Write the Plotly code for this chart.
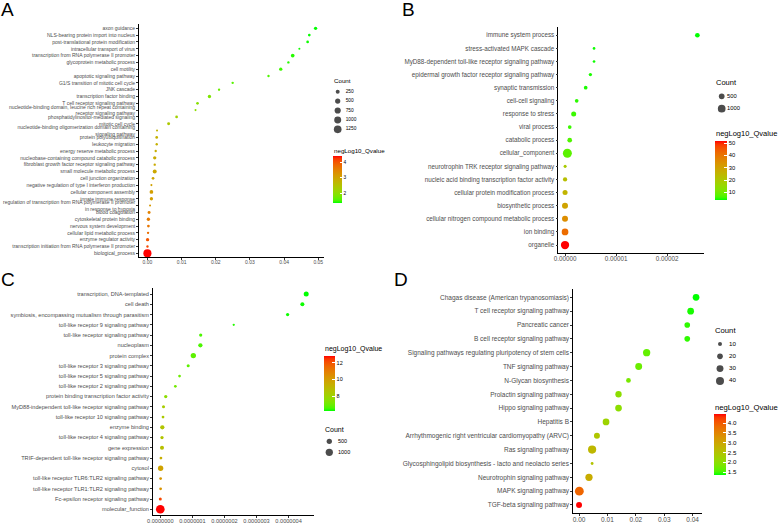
import plotly.graph_objects as go

W, H = 778, 523
FONT = "Liberation Sans"

# ---------------- Panel A ----------------
A_terms = [
    "axon guidance",
    "NLS-bearing protein import into nucleus",
    "post-translational protein modification",
    "intracellular transport of virus",
    "transcription from RNA polymerase II promoter",
    "glycoprotein metabolic process",
    "cell motility",
    "apoptotic signaling pathway",
    "G1/S transition of mitotic cell cycle",
    "JNK cascade",
    "transcription factor binding",
    "T cell receptor signaling pathway",
    "nucleotide-binding domain, leucine rich repeat containing\nreceptor signaling pathway",
    "phosphatidylinositol-mediated signaling",
    "mitotic cell cycle",
    "nucleotide-binding oligomerization domain containing\nsignaling pathway",
    "protein polyubiquitination",
    "leukocyte migration",
    "energy reserve metabolic process",
    "nucleobase-containing compound catabolic process",
    "fibroblast growth factor receptor signaling pathway",
    "small molecule metabolic process",
    "cell junction organization",
    "negative regulation of type I interferon production",
    "cellular component assembly",
    "innate immune response",
    "regulation of transcription from RNA polymerase II promoter\nin response to hypoxia",
    "blood coagulation",
    "cytoskeletal protein binding",
    "nervous system development",
    "cellular lipid metabolic process",
    "enzyme regulator activity",
    "transcription initiation from RNA polymerase II promoter",
    "biological_process",
]
A_pvalue = [0.04922, 0.04738, 0.04689, 0.04447, 0.04252, 0.04126, 0.03903, 0.03544,
            0.02495, 0.02097, 0.01816, 0.01466, 0.01408, 0.00854, 0.00621, 0.00282,
            0.00272, 0.00272, 0.00243, 0.00214, 0.00214, 0.00214, 0.00165, 0.00117,
            0.00117, 0.00117, 0.00078, 0.00049, 0.00029, 0.00029, 0.00019, 0.00005,
            0.00002, 0.0]
A_count = [150, 80, 80, 30, 200, 50, 150, 50, 50, 50, 150, 80, 30, 80, 110, 30, 80,
           50, 50, 150, 50, 250, 80, 30, 200, 150, 30, 110, 150, 80, 50, 150, 50, 1400]
A_qvalue = [1.37, 1.38, 1.40, 1.40, 1.45, 1.45, 1.5, 1.55, 1.6, 1.7, 1.85, 1.95, 2.0,
            2.25, 2.4, 2.75, 2.8, 2.8, 2.85, 2.9, 2.9, 2.95, 3.0, 3.05, 3.1, 3.1, 3.2,
            3.5, 3.6, 3.65, 3.75, 4.0, 4.1, 4.41]
A_xticks = [0.0, 0.01, 0.02, 0.03, 0.04, 0.05]
A_cticks = [2, 3, 4]
A_count_legend = [250, 500, 750, 1000, 1250]

# ---------------- Panel B ----------------
B_terms = [
    "immune system process",
    "stress-activated MAPK cascade",
    "MyD88-dependent toll-like receptor signaling pathway",
    "epidermal growth factor receptor signaling pathway",
    "synaptic transmission",
    "cell-cell signaling",
    "response to stress",
    "viral process",
    "catabolic process",
    "cellular_component",
    "neurotrophin TRK receptor signaling pathway",
    "nucleic acid binding transcription factor activity",
    "cellular protein modification process",
    "biosynthetic process",
    "cellular nitrogen compound metabolic process",
    "ion binding",
    "organelle",
]
B_pvalue = [2.595e-5, 5.69e-6, 5.69e-6, 4.97e-6, 4.05e-6, 2.29e-6, 1.70e-6, 0.92e-6,
            0.92e-6, 0.46e-6, 2e-8, 1e-8, 1e-8, 0.0, 0.0, 0.0, 0.0]
B_count = [310, 70, 70, 130, 170, 170, 370, 170, 310, 1400, 100, 250, 370, 560, 560, 730, 1180]
B_qvalue = [4.1, 4.5, 4.5, 5.0, 5.0, 5.5, 6.0, 6.0, 7.0, 8.0, 19.5, 23.0, 25.5, 30.0,
            35.0, 42.0, 51.9]
B_xticks = [0.0, 0.00001, 0.00002]
B_cticks = [10, 20, 30, 40, 50]
B_count_legend = [500, 1000]

# ---------------- Panel C ----------------
C_terms = [
    "transcription, DNA-templated",
    "cell death",
    "symbiosis, encompassing mutualism through parasitism",
    "toll-like receptor 9 signaling pathway",
    "toll-like receptor signaling pathway",
    "nucleoplasm",
    "protein complex",
    "toll-like receptor 3 signaling pathway",
    "toll-like receptor 5 signaling pathway",
    "toll-like receptor 2 signaling pathway",
    "protein binding transcription factor activity",
    "MyD88-independent toll-like receptor signaling pathway",
    "toll-like receptor 10 signaling pathway",
    "enzyme binding",
    "toll-like receptor 4 signaling pathway",
    "gene expression",
    "TRIF-dependent toll-like receptor signaling pathway",
    "cytosol",
    "toll-like receptor TLR6:TLR2 signaling pathway",
    "toll-like receptor TLR1:TLR2 signaling pathway",
    "Fc-epsilon receptor signaling pathway",
    "molecular_function",
]
C_pvalue = [4.55e-7, 4.43e-7, 3.97e-7, 2.29e-7, 1.26e-7, 1.25e-7, 1.03e-7, 0.87e-7,
            0.60e-7, 0.47e-7, 0.17e-7, 0.10e-7, 0.085e-7, 0.063e-7, 0.053e-7,
            0.053e-7, 0.02e-7, 0.01e-7, 0.01e-7, 0.01e-7, 0.0, 0.0]
C_count = [440, 270, 170, 70, 170, 310, 500, 140, 110, 110, 170, 140, 110, 310, 170,
           270, 110, 500, 110, 110, 140, 1450]
C_qvalue = [6.24, 6.3, 6.3, 6.4, 6.6, 6.6, 6.8, 6.8, 7.0, 7.1, 7.6, 8.3, 8.4, 8.6, 8.6,
            8.8, 9.4, 9.8, 10.2, 10.3, 12.2, 12.8]
C_xticks = [0.0, 1e-7, 2e-7, 3e-7, 4e-7]
C_cticks = [8, 10, 12]
C_count_legend = [500, 1000]

# ---------------- Panel D ----------------
D_terms = [
    "Chagas disease (American trypanosomiasis)",
    "T cell receptor signaling pathway",
    "Pancreatic cancer",
    "B cell receptor signaling pathway",
    "Signaling pathways regulating pluripotency of stem cells",
    "TNF signaling pathway",
    "N-Glycan biosynthesis",
    "Prolactin signaling pathway",
    "Hippo signaling pathway",
    "Hepatitis B",
    "Arrhythmogenic right ventricular cardiomyopathy (ARVC)",
    "Ras signaling pathway",
    "Glycosphingolipid biosynthesis - lacto and neolacto series",
    "Neurotrophin signaling pathway",
    "MAPK signaling pathway",
    "TGF-beta signaling pathway",
]
D_pvalue = [0.0412, 0.0393, 0.0381, 0.0381, 0.0238, 0.0210, 0.0174, 0.0139, 0.0139,
            0.0095, 0.0063, 0.0046, 0.0046, 0.0035, 0.0001, 0.0]
D_count = [28, 28, 20, 20, 33, 30, 14, 25, 28, 28, 22, 42, 5, 33, 49, 22]
D_qvalue = [1.35, 1.4, 1.45, 1.45, 1.65, 1.7, 1.8, 2.0, 2.0, 2.2, 2.45, 2.7, 2.5, 2.9,
            3.9, 4.47]
D_xticks = [0.0, 0.01, 0.02, 0.03, 0.04]
D_cticks = [1.5, 2.0, 2.5, 3.0, 3.5, 4.0]
D_count_legend = [10, 20, 30, 40]


# ---------- colour scale: green -> red interpolated in CIELab (ggplot style) ----------
def _lin(c):
    c = c / 255.0
    return c / 12.92 if c <= 0.04045 else ((c + 0.055) / 1.055) ** 2.4


def _delin(c):
    c = 12.92 * c if c <= 0.0031308 else 1.055 * c ** (1 / 2.4) - 0.055
    return max(0, min(255, round(c * 255)))


WN = (0.95047, 1.0, 1.08883)


def rgb2lab(rgb):
    r, g, b = (_lin(v) for v in rgb)
    X = 0.4124564 * r + 0.3575761 * g + 0.1804375 * b
    Y = 0.2126729 * r + 0.7151522 * g + 0.0721750 * b
    Z = 0.0193339 * r + 0.1191920 * g + 0.9503041 * b
    d = 6 / 29

    def f(t):
        return t ** (1 / 3) if t > d ** 3 else t / (3 * d * d) + 4 / 29

    fx, fy, fz = f(X / WN[0]), f(Y / WN[1]), f(Z / WN[2])
    return (116 * fy - 16, 500 * (fx - fy), 200 * (fy - fz))


def lab2rgb(lab):
    L, a, b = lab
    fy = (L + 16) / 116
    fx = fy + a / 500
    fz = fy - b / 200
    d = 6 / 29

    def finv(t):
        return t ** 3 if t > d else 3 * d * d * (t - 4 / 29)

    X, Y, Z = WN[0] * finv(fx), WN[1] * finv(fy), WN[2] * finv(fz)
    r = 3.2404542 * X - 1.5371385 * Y - 0.4985314 * Z
    g = -0.9692660 * X + 1.8760108 * Y + 0.0415560 * Z
    bb = 0.0556434 * X - 0.2040259 * Y + 1.0572252 * Z
    return tuple(_delin(max(0.0, min(1.0, v))) for v in (r, g, bb))


lab_lo, lab_hi = rgb2lab((0, 255, 0)), rgb2lab((255, 0, 0))
COLORSCALE = []
for i in range(21):
    t = i / 20
    lab = tuple(lab_lo[k] + (lab_hi[k] - lab_lo[k]) * t for k in range(3))
    r, g, b = lab2rgb(lab)
    COLORSCALE.append([t, f"rgb({r},{g},{b})"])


def px(x):
    return x / W


def py(y):
    return 1 - y / H


fig = go.Figure()

panels = [
    dict(terms=A_terms, x=A_pvalue, n=A_count, q=A_qvalue, xticks=A_xticks, fmt=".2f",
         cticks=A_cticks, cfmt="", leg=A_count_legend,
         dom_x=(139, 324), dom_y=(24.2, 257.4), fs=5.0, tfs=6.2, lfs=4.8,
         size=(1.0, 0.189),
         cb=dict(left=333.3, top=156, len=46.7, thick=9), cbt=(333, 150.5),
         lg=dict(title=(333, 81), dotx=337.7, texty=91.7, sp=9.4, textx=345.7)),
    dict(terms=B_terms, x=B_pvalue, n=B_count, q=B_qvalue, xticks=B_xticks, fmt=".5f",
         cticks=B_cticks, cfmt="", leg=B_count_legend,
         dom_x=(558.4, 704), dom_y=(27.4, 252.9), fs=6.3, tfs=7.5, lfs=5.8,
         size=(0.87, 0.216),
         cb=dict(left=715.3, top=140.7, len=59.3, thick=12), cbt=(715.3, 133.3),
         lg=dict(title=(715.3, 82.7), dotx=721.7, texty=96.3, sp=12.4, textx=727)),
    dict(terms=C_terms, x=C_pvalue, n=C_count, q=C_qvalue, xticks=C_xticks, fmt=".7f",
         cticks=C_cticks, cfmt="", leg=C_count_legend,
         dom_x=(153, 313.5), dom_y=(287.9, 515.4), fs=5.6, tfs=7.0, lfs=5.5,
         size=(0.47, 0.216),
         cb=dict(left=324, top=356, len=54.7, thick=11), cbt=(324, 349),
         lg=dict(title=(324, 429), dotx=329.3, texty=441.3, sp=11, textx=338)),
    dict(terms=D_terms, x=D_pvalue, n=D_count, q=D_qvalue, xticks=D_xticks, fmt=".2f",
         cticks=D_cticks, cfmt=".1f", leg=D_count_legend,
         dom_x=(573.2, 701.9), dom_y=(289, 513.3), fs=6.5, tfs=7.7, lfs=6.2,
         size=(0.0, 1.266),
         cb=dict(left=714, top=414, len=61.3, thick=12), cbt=(714, 407.3),
         lg=dict(title=(714, 330.7), dotx=720, texty=344, sp=12.3, textx=729)),
]

layout = dict(
    width=W, height=H, margin=dict(l=0, r=0, t=0, b=0),
    paper_bgcolor="white", plot_bgcolor="white", showlegend=False,
    template="none", font=dict(family=FONT, color="black"),
)
annotations = []

for i, p in enumerate(panels):
    k = i + 1
    sfx = "" if k == 1 else str(k)
    c0, c1 = p["size"]
    sizes = [c0 + c1 * (v ** 0.5) for v in p["n"]]
    nrow = len(p["terms"])
    lo, hi = min(p["x"]), max(p["x"])
    span = hi - lo
    cax = "coloraxis" + sfx
    fig.add_trace(go.Scatter(
        x=p["x"], y=p["terms"], mode="markers",
        marker=dict(size=sizes, color=p["q"], coloraxis=cax, line=dict(width=0), opacity=1),
        xaxis="x" + sfx, yaxis="y" + sfx, hoverinfo="x+y",
    ))
    layout["xaxis" + sfx] = dict(
        domain=[px(p["dom_x"][0]), px(p["dom_x"][1])], anchor="y" + sfx,
        range=[lo - 0.05 * span, hi + 0.05 * span],
        tickmode="array", tickvals=p["xticks"], tickformat=p["fmt"],
        showline=True, linecolor="black", linewidth=0.8, ticks="outside",
        ticklen=2, tickwidth=0.7, tickcolor="#333333", showgrid=False, zeroline=False,
        tickfont=dict(size=p["fs"], color="#4D4D4D", family=FONT), automargin=False,
        ticklabelstandoff=-2,
    )
    layout["yaxis" + sfx] = dict(
        domain=[py(p["dom_y"][1]), py(p["dom_y"][0])], anchor="x" + sfx,
        type="category", categoryorder="array", categoryarray=p["terms"],
        range=[nrow - 1 + 0.6, -0.6],
        tickmode="array", tickvals=p["terms"],
        ticktext=[t.replace("\n", "<br>") for t in p["terms"]],
        showline=True, linecolor="black", linewidth=0.8, ticks="outside",
        ticklen=2, tickwidth=0.7, tickcolor="#333333", showgrid=False, zeroline=False,
        tickfont=dict(size=p["fs"], color="#4D4D4D", family=FONT), automargin=False,
    )
    cb = p["cb"]
    cbd = dict(
        x=px(cb["left"]), xanchor="left", y=py(cb["top"]), yanchor="top",
        len=cb["len"], lenmode="pixels", thickness=cb["thick"], thicknessmode="pixels",
        xpad=0, ypad=0, outlinewidth=0, tickmode="array", tickvals=p["cticks"],
        ticks="inside", ticklen=max(2, cb["thick"] / 5), tickcolor="white", tickwidth=0.8,
        tickfont=dict(size=p["lfs"], color="black", family=FONT),
    )
    if p["cfmt"]:
        cbd["tickformat"] = p["cfmt"]
    layout[cax] = dict(colorscale=COLORSCALE, cmin=min(p["q"]), cmax=max(p["q"]), colorbar=cbd)
    annotations.append(dict(
        text="negLog10_Qvalue", x=px(p["cbt"][0]), y=py(p["cbt"][1]), xref="paper", yref="paper",
        xanchor="left", yanchor="middle", showarrow=False, borderpad=0,
        font=dict(size=p["tfs"], color="black", family=FONT),
    ))
    # ---- Count size legend, drawn in its own hidden axes ----
    lg = p["lg"]
    nl = len(p["leg"])
    lk = k + 4
    lx0 = lg["dotx"] - 10
    annotations.append(dict(
        text="Count", x=px(lg["title"][0]), y=py(lg["title"][1]), xref="paper", yref="paper",
        xanchor="left", yanchor="middle", showarrow=False, borderpad=0,
        font=dict(size=p["tfs"], color="black", family=FONT),
    ))
    idx = list(range(nl))
    fig.add_trace(go.Scatter(
        x=[lg["dotx"] - lx0] * nl, y=idx, mode="markers",
        marker=dict(size=[c0 + c1 * (v ** 0.5) for v in p["leg"]], color="black", line=dict(width=0)),
        xaxis="x" + str(lk), yaxis="y" + str(lk), hoverinfo="skip",
    ))
    fig.add_trace(go.Scatter(
        x=[lg["textx"] - lx0] * nl, y=idx, mode="text", text=[str(v) for v in p["leg"]],
        textposition="middle right", textfont=dict(size=p["lfs"], color="black", family=FONT),
        xaxis="x" + str(lk), yaxis="y" + str(lk), hoverinfo="skip",
    ))
    hide = dict(showgrid=False, zeroline=False, showticklabels=False, showline=False,
                ticks="", fixedrange=True, automargin=False)
    layout["xaxis" + str(lk)] = dict(domain=[px(lx0), px(lx0 + 40)], range=[0, 40],
                                     anchor="y" + str(lk), **hide)
    ytop = lg["texty"] - lg["sp"] / 2
    layout["yaxis" + str(lk)] = dict(domain=[py(ytop + nl * lg["sp"]), py(ytop)],
                                     range=[nl - 0.5, -0.5], anchor="x" + str(lk), **hide)

# panel letters
for letter, lx, ly in [("A", 0, -2.5), ("B", 401, -2.5), ("C", 0, 268), ("D", 393, 268)]:
    annotations.append(dict(
        text=letter, x=px(lx), y=py(ly), xref="paper", yref="paper",
        xanchor="left", yanchor="top", showarrow=False, borderpad=0,
        font=dict(size=19, color="black", family=FONT),
    ))

layout["annotations"] = annotations
fig.update_layout(**layout)
fig.write_html(
    "out.html",
    config={"displayModeBar": False},
    post_script="document.body.style.margin='0';document.body.style.padding='0';",
)
